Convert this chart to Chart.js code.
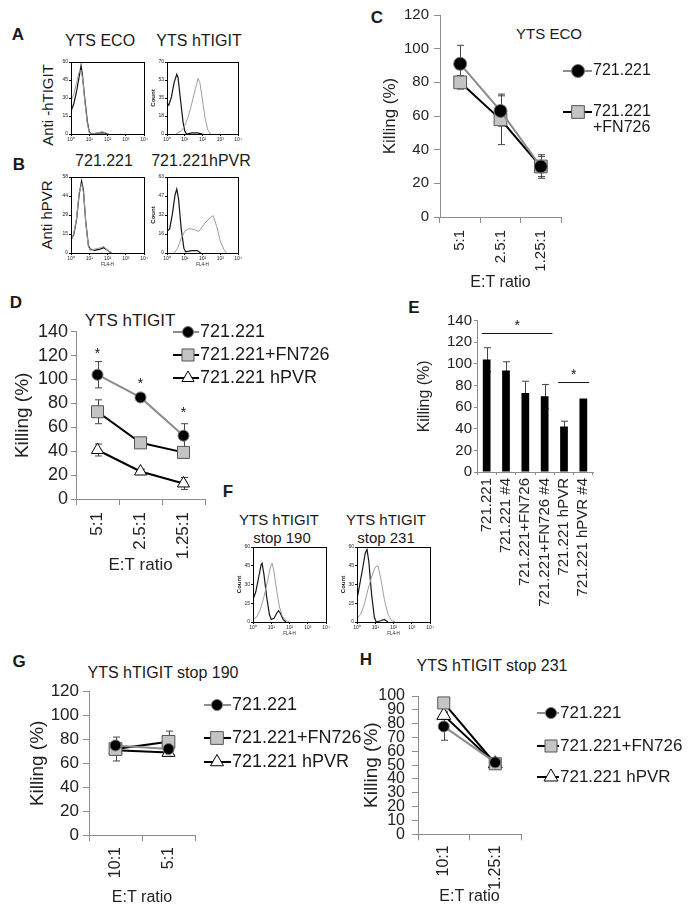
<!DOCTYPE html>
<html>
<head>
<meta charset="utf-8">
<script src="https://cdn.jsdelivr.net/npm/chart.js@4.4.0/dist/chart.umd.min.js"></script>
<style>
body { margin:0; width:688px; height:913px; position:relative; overflow:hidden; background:#fff;
       font-family:"Liberation Sans", Arial, sans-serif; color:#1a1a1a; }
canvas { position:absolute; }
.t { position:absolute; white-space:nowrap; line-height:1; transform:translate(-50%,-50%); }
.r { transform:translate(-50%,-50%) rotate(-90deg); }
.b { font-weight:bold; font-size:17px; }
</style>
</head>
<body>
<div class="t b" style="left:18px;top:34px">A</div>
<div class="t" style="left:100px;top:41px;font-size:16px">YTS ECO</div>
<div class="t" style="left:199px;top:41px;font-size:16px">YTS hTIGIT</div>
<div class="t r" style="left:47px;top:105px;font-size:15px">Anti -hTIGIT</div>
<div class="t b" style="left:19px;top:164px">B</div>
<div class="t" style="left:104px;top:161px;font-size:16px">721.221</div>
<div class="t" style="left:201px;top:161px;font-size:16px">721.221hPVR</div>
<div class="t r" style="left:46px;top:215px;font-size:15px">Anti hPVR</div>

<div class="t b" style="left:377px;top:17px">C</div>
<div class="t" style="left:549px;top:33px;font-size:15px">YTS ECO</div>

<div class="t b" style="left:16px;top:302px">D</div>
<div class="t" style="left:130px;top:320px;font-size:17px">YTS hTIGIT</div>

<div class="t b" style="left:414px;top:307px">E</div>

<div class="t b" style="left:228px;top:491px">F</div>
<div class="t" style="left:279px;top:519px;font-size:15px">YTS hTIGIT</div>
<div class="t" style="left:282px;top:537px;font-size:15px">stop 190</div>
<div class="t" style="left:386px;top:519px;font-size:15px">YTS hTIGIT</div>
<div class="t" style="left:386px;top:537px;font-size:15px">stop 231</div>

<div class="t b" style="left:19px;top:661px">G</div>
<div class="t" style="left:163px;top:673px;font-size:16px">YTS hTIGIT stop 190</div>
<div class="t b" style="left:366px;top:659px">H</div>
<div class="t" style="left:492px;top:666px;font-size:16px">YTS hTIGIT stop 231</div>

<script>
// ---- flow histograms: [log10 decade, count] ----
const ecoBlack = [[0,19],[0.15,25],[0.3,35],[0.45,48],[0.55,57],[0.62,50],[0.75,30],[0.9,10],[1.0,2],[1.1,0],[1.6,1],[1.8,1],[2.0,0]];
const ecoGray = [[0,28],[0.15,33],[0.3,42],[0.45,52],[0.55,53],[0.65,45],[0.75,28],[0.9,8],[1.0,1],[1.1,0],[1.5,1],[1.7,2],[1.9,1],[2.1,0]];
const tigitBlack = [[0,30],[0.1,28],[0.25,36],[0.4,50],[0.55,58],[0.62,55],[0.75,35],[0.9,12],[1.0,3],[1.1,0],[1.4,1],[1.7,1],[2.0,0]];
const tigitGray = [[0.5,0],[0.8,3],[1.0,8],[1.2,17],[1.4,30],[1.6,44],[1.75,54],[1.85,50],[2.0,33],[2.15,15],[2.3,4],[2.45,0]];
const pvrNegBlack = [[0,10],[0.15,14],[0.3,25],[0.45,45],[0.58,55],[0.68,48],[0.8,25],[0.95,6],[1.05,3],[1.3,2],[1.6,3],[1.8,4],[2.0,2],[2.2,0]];
const pvrNegGray = [[0,9],[0.15,15],[0.3,26],[0.45,46],[0.58,53],[0.7,45],[0.82,22],[0.95,5],[1.05,2],[1.3,3],[1.6,4],[1.8,5],[2.0,2],[2.25,0]];
const pvrPosBlack = [[0,18],[0.15,20],[0.3,32],[0.45,48],[0.55,53],[0.65,45],[0.8,20],[0.95,4],[1.05,1],[1.4,2],[1.7,2],[1.9,0]];
const pvrPosGray = [[0.4,0],[0.6,4],[0.8,12],[1.0,18],[1.2,20],[1.4,20],[1.6,19],[1.8,18],[2.1,24],[2.4,29],[2.6,31],[2.8,22],[3.0,10],[3.2,3],[3.35,0]];
const stop190Black = [[0,18],[0.15,24],[0.3,35],[0.45,46],[0.5,47],[0.6,38],[0.75,20],[0.9,6],[1.0,2],[1.15,3],[1.3,7],[1.4,9],[1.5,7],[1.65,2],[1.8,0]];
const stop190Gray = [[0,2],[0.2,4],[0.4,10],[0.6,20],[0.8,33],[0.95,44],[1.05,47],[1.15,40],[1.3,25],[1.45,12],[1.6,5],[1.8,1],[2.0,0]];
const stop231Black = [[0,18],[0.15,30],[0.3,42],[0.45,55],[0.55,58],[0.65,48],[0.8,22],[0.95,4],[1.05,0],[1.3,1],[1.5,2],[1.7,0]];
const stop231Gray = [[0,3],[0.2,6],[0.4,14],[0.6,26],[0.8,36],[1.0,44],[1.15,45],[1.3,35],[1.5,18],[1.7,6],[1.9,1],[2.1,0]];
const decadeLabels = ['10⁰', '10¹', '10²', '10³', '10⁴'];

// ---- C: YTS ECO ----
const ratiosC = ['5:1', '2.5:1', '1.25:1'];
const ecoKill = [91, 63, 30];
const ecoKillErr = [11, 9, 6];
const ecoFnKill = [80, 58, 30];
const ecoFnKillErr = [4, 15, 7];

// ---- D: YTS hTIGIT ----
const ratiosD = ['5:1', '2.5:1', '1.25:1'];
const hKill = [104, 85, 53];
const hKillErr = [11, 3, 10];
const hFnKill = [73, 47, 39];
const hFnKillErr = [10, 4, 3];
const hPvrKill = [41, 23, 13];
const hPvrKillErr = [5, 2, 5];
const hStars = [125, 100, 75];

// ---- E ----
const targetsE = ['721.221', '721.221 #4', '721.221+FN726', '721.221+FN726 #4', '721.221 hPVR', '721.221 hPVR #4'];
const killE = [104, 94, 73, 70, 42, 68];
const killErrE = [11, 8, 11, 11, 5, 0];
const bracketsE = [[-0.25, 3.4, 129], [3.7, 5.3, 83]];

// ---- G: stop 190 ----
const ratiosG = ['10:1', '5:1'];
const s190Kill = [75, 72];
const s190KillErr = [2, 2];
const s190FnKill = [72, 78];
const s190FnKillErr = [10, 9];
const s190PvrKill = [71, 69];
const s190PvrKillErr = [4, 3];

// ---- H: stop 231 ----
const ratiosH = ['10:1', '1.25:1'];
const s231Kill = [78, 52];
const s231KillErr = [10, 2];
const s231FnKill = [95, 51];
const s231FnKillErr = [2, 2];
const s231PvrKill = [86, 51];
const s231PvrKillErr = [3, 2];

Chart.defaults.font.family = '"Liberation Sans", Arial, sans-serif';
Chart.defaults.color = '#222';
const AXIS = '#8c8c8c';
const FONT = '"Liberation Sans", Arial, sans-serif';

const circle = {line: '#8c8c8c', shape: 'circle', fill: '#000', edge: '#777'};
const square = {line: '#000', shape: 'rect', fill: '#c4c4c4', edge: '#555'};
const tri = {line: '#000', shape: 'triangle', fill: '#fff', edge: '#000'};

function makeCanvas(cv) {
  const c = document.createElement('canvas');
  c.width = cv.w; c.height = cv.h;
  c.style.left = cv.l + 'px'; c.style.top = cv.t + 'px';
  document.body.appendChild(c);
  return c;
}

function drawMarker(ctx, shape, x, y, r, fill, edge) {
  ctx.beginPath();
  if (shape === 'circle') ctx.arc(x, y, r, 0, Math.PI * 2);
  else if (shape === 'rect') { const s = r * Math.SQRT1_2; ctx.rect(x - s, y - s, 2 * s, 2 * s); }
  else {
    for (let k = 0; k < 3; k++) {
      const a = k * 2 * Math.PI / 3;
      const px = x + Math.sin(a) * r, py = y - Math.cos(a) * r;
      if (k) ctx.lineTo(px, py); else ctx.moveTo(px, py);
    }
    ctx.closePath();
  }
  ctx.fillStyle = fill; ctx.fill();
  ctx.strokeStyle = edge; ctx.lineWidth = 1; ctx.stroke();
}

function series(label, data, err, st, r) {
  return {
    label, data, errors: err, st,
    borderColor: st.line, borderWidth: 2, tension: 0,
    pointStyle: st.shape, pointRadius: r, pointBackgroundColor: st.fill,
    pointBorderColor: st.edge, pointBorderWidth: 1
  };
}

function extras(o, cv) {
  return {
    id: 'extras',
    beforeDatasetsDraw(chart) {
      const ctx = chart.ctx, ys = chart.scales.y;
      chart.data.datasets.forEach((ds, i) => {
        if (!ds.errors) return;
        const meta = chart.getDatasetMeta(i);
        ctx.save();
        ctx.strokeStyle = '#444'; ctx.lineWidth = 1;
        ds.data.forEach((v, j) => {
          const e = ds.errors[j];
          if (!e) return;
          const x = Math.round(meta.data[j].x) + 0.5;
          const y1 = ys.getPixelForValue(v + e), y2 = ys.getPixelForValue(v - e);
          ctx.beginPath();
          ctx.moveTo(x, y1); ctx.lineTo(x, y2);
          ctx.moveTo(x - 3.5, y1); ctx.lineTo(x + 3.5, y1);
          ctx.moveTo(x - 3.5, y2); ctx.lineTo(x + 3.5, y2);
          ctx.stroke();
        });
        ctx.restore();
      });
    },
    afterDatasetsDraw(chart) {
      const ctx = chart.ctx, xs = chart.scales.x, ys = chart.scales.y;
      ctx.save();
      ctx.fillStyle = '#111'; ctx.strokeStyle = '#111'; ctx.lineWidth = 1;
      ctx.font = '14px ' + FONT; ctx.textAlign = 'center';
      if (o.stars) {
        o.stars.forEach((v, j) => ctx.fillText('*', xs.getPixelForValue(j), ys.getPixelForValue(v) + 8));
      }
      if (o.brackets) {
        o.brackets.forEach(([a, b, v]) => {
          const y = Math.round(ys.getPixelForValue(v)) + 0.5;
          const x1 = xs.getPixelForValue(a), x2 = xs.getPixelForValue(b);
          ctx.beginPath(); ctx.moveTo(x1, y); ctx.lineTo(x2, y); ctx.stroke();
          ctx.fillText('*', (x1 + x2) / 2, y - 4);
        });
      }
      ctx.restore();
    },
    afterDraw(chart) {
      const L = o.legend;
      if (!L) return;
      const ctx = chart.ctx;
      ctx.save();
      L.items.forEach(it => {
        const ds = chart.data.datasets[it.ds];
        const y = it.y - cv.t;
        ctx.strokeStyle = ds.st.line; ctx.lineWidth = 2;
        ctx.beginPath(); ctx.moveTo(L.x1 - cv.l, y); ctx.lineTo(L.x2 - cv.l, y); ctx.stroke();
        drawMarker(ctx, ds.st.shape, L.mx - cv.l, y, L.r[it.ds], ds.st.fill, ds.st.edge);
        ctx.fillStyle = '#1a1a1a'; ctx.font = L.fs + 'px ' + FONT;
        ctx.textAlign = 'left'; ctx.textBaseline = 'middle';
        (it.lines || [ds.label]).forEach((s, k) => ctx.fillText(s, L.x2 - cv.l + 1, y + k * L.fs));
      });
      ctx.restore();
    }
  };
}

function killChart(type, cv, plot, labels, datasets, o) {
  const c = makeCanvas(cv);
  const yW = plot.l - (o.yTitleX - 4 - 0.6 * o.killFs);
  const xH = o.xTitleY ? o.xTitleY + 4 + 0.6 * o.etFs - plot.b : o.xH;
  const pad = {left: plot.l - yW - cv.l, top: plot.t - cv.t, right: cv.l + cv.w - plot.r, bottom: cv.t + cv.h - plot.b - xH};
  return new Chart(c, {
    type,
    data: {labels, datasets},
    options: {
      responsive: false, animation: false, devicePixelRatio: 1,
      layout: {padding: pad},
      plugins: {legend: {display: false}, tooltip: {enabled: false}},
      scales: {
        x: {
          offset: true,
          border: {color: AXIS},
          grid: {offset: true, drawOnChartArea: false, color: AXIS, tickLength: o.xTick},
          ticks: {font: {size: o.xFs}, minRotation: 90, maxRotation: 90, padding: o.xPad, autoSkip: false},
          title: {display: !!o.xTitleY, text: 'E:T ratio', font: {size: o.etFs}},
          afterFit: s => { s.height = xH; }
        },
        y: {
          min: 0, max: o.max,
          border: {color: AXIS},
          grid: {drawOnChartArea: false, color: AXIS, tickLength: o.yTick},
          ticks: {stepSize: o.step, font: {size: o.yFs}, padding: o.yPad, autoSkip: false},
          title: {display: true, text: 'Killing (%)', font: {size: o.killFs}},
          afterFit: s => { s.width = yW; }
        }
      }
    },
    plugins: [extras(o, cv)]
  });
}

const frameBox = {
  id: 'frameBox',
  afterDraw(chart) {
    const a = chart.chartArea, ctx = chart.ctx;
    ctx.save(); ctx.strokeStyle = '#000'; ctx.lineWidth = 1;
    ctx.strokeRect(Math.round(a.left) + 0.5, Math.round(a.top) + 0.5, Math.round(a.right - a.left), Math.round(a.bottom - a.top));
    ctx.restore();
  }
};

function histo(plot, black, gray, yMax, count, fl) {
  const cv = {l: plot.l - 20, t: plot.t - 5, w: plot.r - plot.l + 26, h: plot.b - plot.t + 21};
  new Chart(makeCanvas(cv), {
    type: 'line',
    data: {datasets: [
      {data: gray, borderColor: '#9d9d9d', borderWidth: 1, pointRadius: 0, tension: 0},
      {data: black, borderColor: '#151515', borderWidth: 1.2, pointRadius: 0, tension: 0}
    ]},
    options: {
      responsive: false, animation: false, devicePixelRatio: 1,
      layout: {padding: {left: 2, top: 5, right: 6, bottom: 2}},
      plugins: {legend: {display: false}, tooltip: {enabled: false}},
      scales: {
        x: {
          type: 'linear', min: 0, max: 4,
          border: {color: '#000'},
          grid: {drawOnChartArea: false, color: '#000', tickLength: 2},
          ticks: {stepSize: 1, font: {size: 5}, padding: 1, maxRotation: 0, autoSkip: false, callback: v => decadeLabels[v]},
          title: {display: fl, text: 'FL4-H', font: {size: 4.5}, padding: 0},
          afterFit: s => { s.height = 14; }
        },
        y: {
          min: 0, max: yMax,
          border: {color: '#000'},
          grid: {drawOnChartArea: false, color: '#000', tickLength: 2},
          ticks: {stepSize: yMax / 4, font: {size: 5}, padding: 1, autoSkip: false, callback: v => Math.round(v)},
          title: {display: count, text: 'Count', font: {size: 6, weight: 'bold'}, padding: {top: 1, bottom: 1}},
          afterFit: s => { s.width = 18; }
        }
      }
    },
    plugins: [frameBox]
  });
}

// A, B, F histograms
histo({l: 71, r: 144, t: 62, b: 134}, ecoBlack, ecoGray, 60, false, false);
histo({l: 167, r: 238, t: 62, b: 134}, tigitBlack, tigitGray, 70, true, false);
histo({l: 71, r: 144, t: 177, b: 253}, pvrNegBlack, pvrNegGray, 58, false, true);
histo({l: 167, r: 238, t: 177, b: 253}, pvrPosBlack, pvrPosGray, 63, true, true);
histo({l: 253, r: 326, t: 547, b: 622}, stop190Black, stop190Gray, 60, true, true);
histo({l: 357, r: 430, t: 547, b: 622}, stop231Black, stop231Gray, 60, true, true);

// C
killChart('line', {l: 350, t: 0, w: 338, h: 300}, {l: 440, r: 561, t: 15, b: 217}, ratiosC, [
  series('721.221', ecoKill, ecoKillErr, circle, 6.5),
  series('721.221+FN726', ecoFnKill, ecoFnKillErr, square, 9)
], {max: 120, step: 20, yFs: 15, xFs: 15, killFs: 17, etFs: 16, yTitleX: 390, xTitleY: 283,
    yTick: 6, yPad: 5, xTick: 6, xPad: 7,
    legend: {x1: 563, x2: 592, mx: 578, fs: 16, r: [6.5, 9], items: [
      {ds: 0, y: 71}, {ds: 1, y: 112, lines: ['721.221', '+FN726']}]}});

// D
killChart('line', {l: 0, t: 300, w: 340, h: 290}, {l: 76, r: 205, t: 331.7, b: 499}, ratiosD, [
  series('721.221', hKill, hKillErr, circle, 5.5),
  series('721.221+FN726', hFnKill, hFnKillErr, square, 8.5),
  series('721.221 hPVR', hPvrKill, hPvrKillErr, tri, 7)
], {max: 140, step: 20, yFs: 18, xFs: 17, killFs: 19, etFs: 17, yTitleX: 23, xTitleY: 565,
    yTick: 5, yPad: 3, xTick: 6, xPad: 7, stars: hStars,
    legend: {x1: 173, x2: 199, mx: 188, fs: 18, r: [5.5, 8.5, 7], items: [
      {ds: 0, y: 332}, {ds: 1, y: 355}, {ds: 2, y: 378}]}});

// E
killChart('bar', {l: 395, t: 290, w: 293, h: 330}, {l: 477, r: 593, t: 320.7, b: 472}, targetsE, [
  {data: killE, errors: killErrE, backgroundColor: '#000', barPercentage: 0.4, categoryPercentage: 1}
], {max: 140, step: 20, yFs: 15, xFs: 15, killFs: 16, yTitleX: 425, xH: 140,
    yTick: 3, yPad: 2, xTick: 3, xPad: 3, brackets: bracketsE});

// G
killChart('line', {l: 0, t: 650, w: 400, h: 263}, {l: 89, r: 195, t: 691.7, b: 835}, ratiosG, [
  series('721.221', s190Kill, s190KillErr, circle, 5.5),
  series('721.221+FN726', s190FnKill, s190FnKillErr, square, 9),
  series('721.221 hPVR', s190PvrKill, s190PvrKillErr, tri, 7.5)
], {max: 120, step: 20, yFs: 17, xFs: 16, killFs: 19, etFs: 16, yTitleX: 38, xTitleY: 898,
    yTick: 6, yPad: 4, xTick: 6, xPad: 6,
    legend: {x1: 204, x2: 231, mx: 217, fs: 18, r: [5.5, 9, 7.5], items: [
      {ds: 0, y: 705}, {ds: 1, y: 738}, {ds: 2, y: 762}]}});

// H
killChart('line', {l: 344, t: 650, w: 344, h: 263}, {l: 418, r: 521, t: 696, b: 834.3}, ratiosH, [
  series('721.221', s231Kill, s231KillErr, circle, 5.5),
  series('721.221+FN726', s231FnKill, s231FnKillErr, square, 8.5),
  series('721.221 hPVR', s231PvrKill, s231PvrKillErr, tri, 8)
], {max: 100, step: 10, yFs: 16, xFs: 16, killFs: 19, etFs: 16, yTitleX: 372, xTitleY: 897,
    yTick: 6, yPad: 7, xTick: 6, xPad: 5,
    legend: {x1: 537, x2: 559, mx: 551, fs: 17, r: [5.5, 8.5, 8], items: [
      {ds: 0, y: 713}, {ds: 1, y: 746}, {ds: 2, y: 777}]}});
</script>
</body>
</html>
